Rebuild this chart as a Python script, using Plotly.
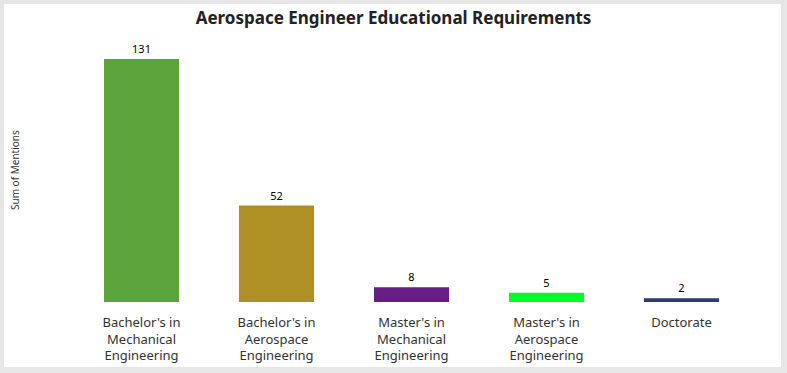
import plotly.graph_objects as go

categories = ["Bachelor's in<br>Mechanical<br>Engineering",
              "Bachelor's in<br>Aerospace<br>Engineering",
              "Master's in<br>Mechanical<br>Engineering",
              "Master's in<br>Aerospace<br>Engineering",
              "Doctorate"]
values = [131, 52, 8, 5, 2]
colors = ["#5ba33b", "#ae8f23", "#661f85", "#00ff21", "#2e3b6b"]

W, H = 787, 373
L, R, T, B = 74, 38, 40, 71
pw, ph = W - L - R, H - T - B

fig = go.Figure(go.Bar(
    x=categories, y=values, marker_color=colors, marker_line_width=0,
    width=0.556, text=values, textposition="outside", cliponaxis=False,
    textfont=dict(size=11, color="#000000", family="Noto Sans"),
))

def px_x(p):
    return (p - L) / pw

def px_y(p):
    return (H - B - p) / ph

fig.add_shape(type="rect", xref="paper", yref="paper", layer="below",
              x0=px_x(4), x1=px_x(781), y0=px_y(367), y1=px_y(4),
              fillcolor="white", line_width=0)

fig.add_annotation(text="Sum of Mentions", xref="paper", yref="paper",
                   x=px_x(15), y=px_y(170), xanchor="center", yanchor="middle",
                   showarrow=False, textangle=-90,
                   font=dict(size=10, color="#333333", family="Noto Sans"))

fig.update_layout(
    width=W, height=H,
    margin=dict(l=L, r=R, t=T, b=B, autoexpand=False),
    paper_bgcolor="#e6e6e6", plot_bgcolor="white",
    title=dict(text="<b>Aerospace Engineer Educational Requirements</b>",
               x=0.5, xanchor="center", y=1 - 18 / H, yanchor="middle",
               font=dict(size=17, color="#222222", family="Noto Sans")),
    showlegend=False,
    font=dict(family="Noto Sans"),
)
fig.update_xaxes(showline=False, showgrid=False, zeroline=False, automargin=False,
                 ticks="outside", ticklen=8, tickcolor="rgba(0,0,0,0)",
                 tickfont=dict(size=13, color="#333333"))
fig.update_yaxes(range=[0, 141.2], showticklabels=False, showgrid=False,
                 zeroline=False, showline=False, automargin=False)

css = ("var s=document.createElement('style');"
       "s.textContent='html,body{margin:0;padding:0;overflow:hidden;height:373px;line-height:0;}';"
       "document.head.appendChild(s);")
fig.write_html("out.html", config={"displayModeBar": False}, post_script=css)
